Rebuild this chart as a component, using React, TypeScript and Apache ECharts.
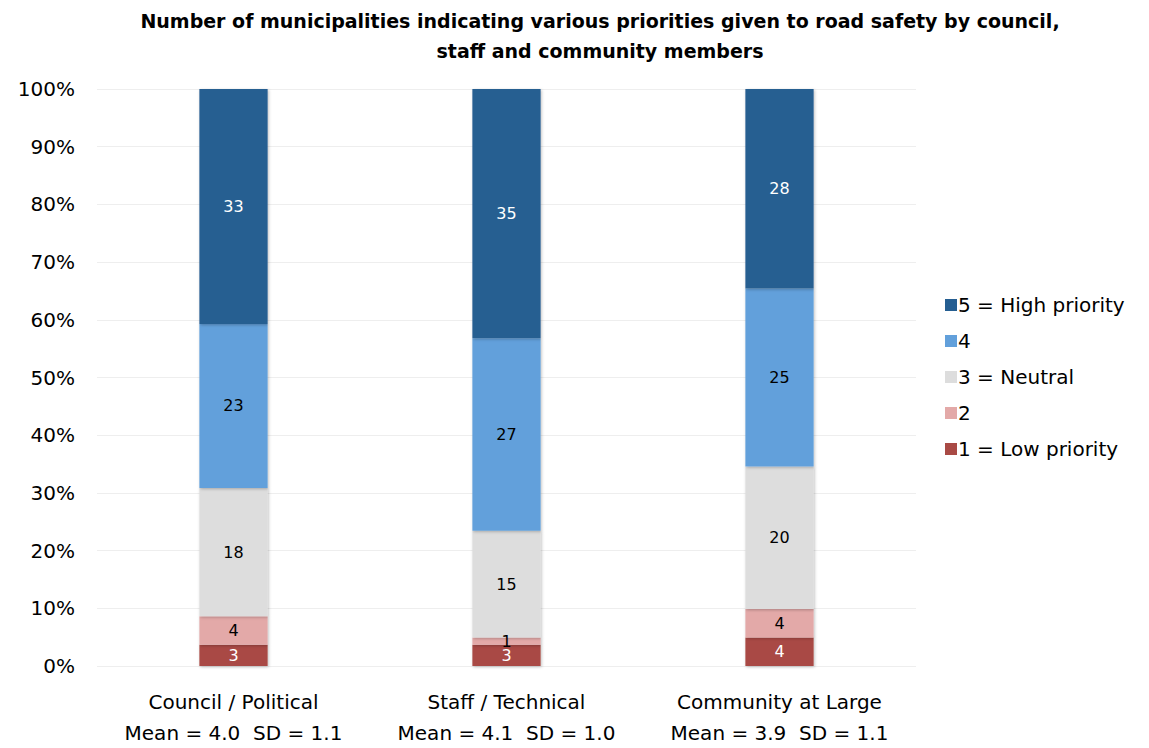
import React, { useEffect, useRef } from "react";
import * as echarts from "echarts";

const categories = ["Council / Political", "Staff / Technical", "Community at Large"];
const stats = ["Mean = 4.0  SD = 1.1", "Mean = 4.1  SD = 1.0", "Mean = 3.9  SD = 1.1"];
const seriesNames = ["1 = Low priority", "2", "3 = Neutral", "4", "5 = High priority"];
const low1 = [3, 3, 4];
const two = [4, 1, 4];
const neutral3 = [18, 15, 20];
const four = [23, 27, 25];
const high5 = [33, 35, 28];
const colors = ["#A94A45", "#E3A9A8", "#DDDDDD", "#62A0DB", "#255E91"];
const labelColors = ["#ffffff", "#000000", "#000000", "#000000", "#ffffff"];
const yTicks = [0, 10, 20, 30, 40, 50, 60, 70, 80, 90, 100];

const FONT = "'DejaVu Sans', 'Noto Sans', sans-serif";

export default function App() {
  const ref = useRef<HTMLDivElement>(null);
  useEffect(() => {
    if (!ref.current) return;
    const chart = echarts.init(ref.current, undefined, { renderer: "svg" });
    const all = [low1, two, neutral3, four, high5];
    const totals = categories.map((_, i) => all.reduce((s, a) => s + a[i], 0));
    const series = all.map((arr, si) => ({
      name: seriesNames[si],
      type: "bar",
      stack: "total",
      barWidth: "25%",
      itemStyle: {
        color: colors[si],
        shadowBlur: 3,
        shadowColor: "rgba(0,0,0,0.25)",
        shadowOffsetX: 1,
        shadowOffsetY: 1,
      },
      label: {
        show: true,
        position: "inside",
        color: labelColors[si],
        fontSize: 16,
        fontFamily: FONT,
        formatter: (p: any) => String(arr[p.dataIndex]),
      },
      data: arr.map((v, i) => (v / totals[i]) * 100),
    }));
    chart.setOption({
      animation: false,
      textStyle: { fontFamily: FONT },
      title: {
        text: "Number of municipalities indicating various priorities given to road safety by council,\nstaff and community members",
        left: 595,
        textAlign: "center",
        top: 1,
        textStyle: { fontSize: 19, fontWeight: "bold", color: "#000", lineHeight: 30, fontFamily: FONT },
      },
      grid: { left: 97, right: 233, top: 89, bottom: 80, containLabel: false },
      legend: {
        orient: "vertical",
        left: 940,
        top: 290,
        itemWidth: 12,
        itemHeight: 12,
        itemGap: 16,
        icon: "rect",
        data: [...seriesNames].reverse(),
        textStyle: { fontSize: 20, color: "#000", fontFamily: FONT, padding: [0, 0, 0, -4] },
      },
      xAxis: {
        type: "category",
        data: categories.map((c, i) => c + "\n" + stats[i]),
        axisLine: { show: false },
        axisTick: { show: false },
        axisLabel: { interval: 0, fontSize: 20, color: "#000", lineHeight: 31, margin: 20, fontFamily: FONT },
      },
      yAxis: {
        type: "value",
        min: yTicks[0],
        max: yTicks[yTicks.length - 1],
        interval: 10,
        axisLine: { show: false },
        axisTick: { show: false },
        splitLine: { lineStyle: { color: "#EEEEEE", width: 1 } },
        axisLabel: { fontSize: 20, color: "#000", formatter: "{value}%", margin: 22, fontFamily: FONT },
      },
      series,
    });
    return () => chart.dispose();
  }, []);
  return (
    <div
      ref={ref}
      style={{ position: "fixed", left: 0, top: 0, width: 1149, height: 748, background: "#fff" }}
    />
  );
}
